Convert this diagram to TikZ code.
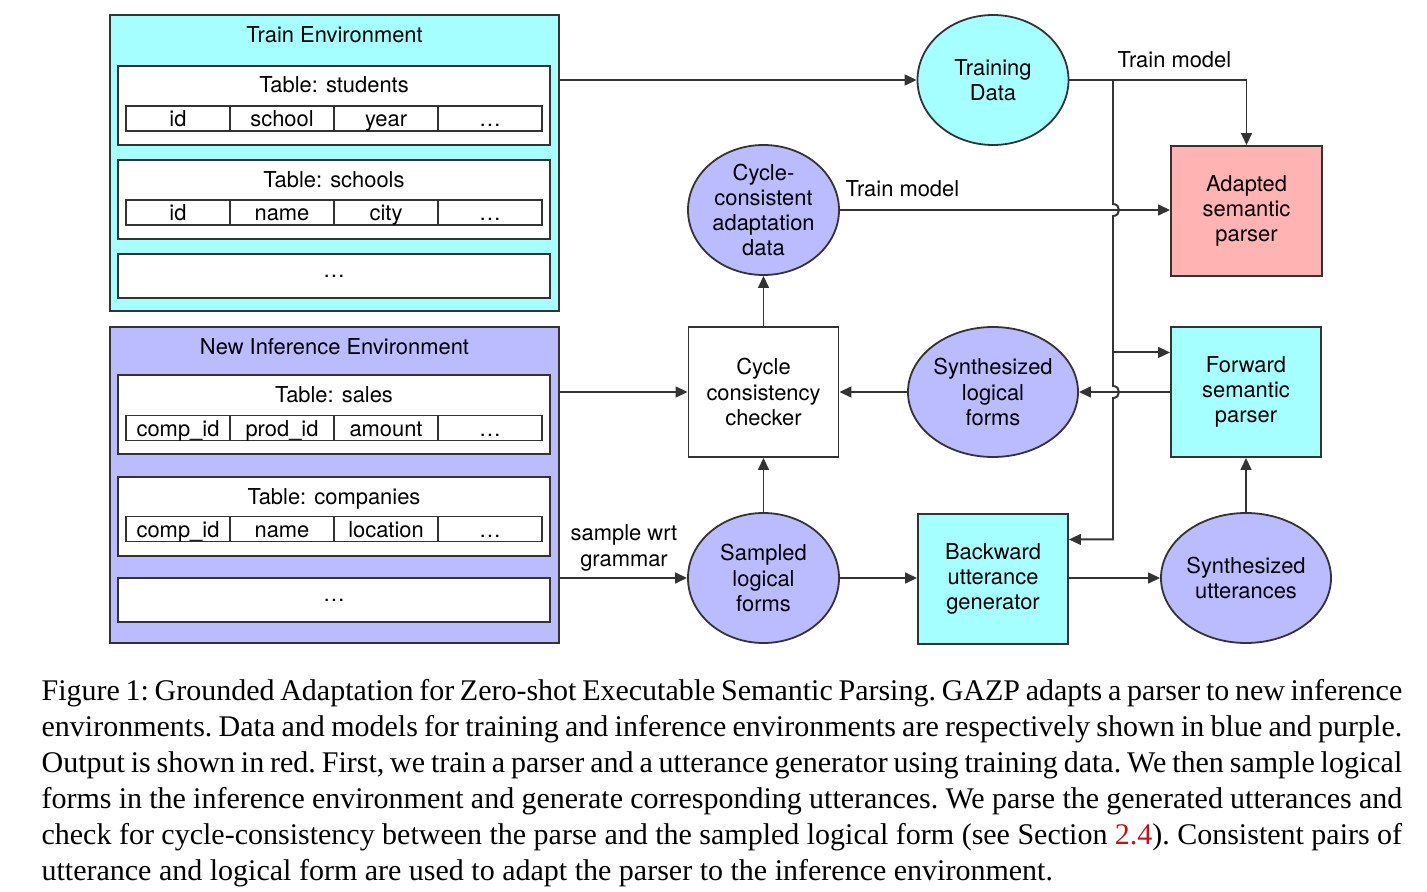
\documentclass[tikz,border=0pt]{standalone}
\usepackage{fontspec}
\setmainfont{Liberation Serif}
\newfontfamily\diagfont{TeX Gyre Heros}
\usepackage{xcolor}
\usepackage{tikz}
\usetikzlibrary{shapes.geometric,arrows.meta,positioning,calc}

\definecolor{trainblue}{RGB}{166,255,255}
\definecolor{inferpurple}{RGB}{187,187,255}
\definecolor{outred}{RGB}{255,179,179}
\definecolor{edgegray}{RGB}{51,51,51}
\definecolor{linkred}{RGB}{190,20,20}

\begin{document}
\begin{tikzpicture}[
    x=0.3333pt, y=-0.3333pt,
    every node/.style={font=\diagfont\fontsize{7.3}{8.4}\selectfont},
    envbox/.style={draw=edgegray, line width=0.6pt, minimum width=149.67pt, inner sep=0},
    tblbox/.style={draw=edgegray, fill=white, line width=0.6pt, minimum width=144pt,
                   minimum height=26.33pt, inner sep=0},
    dotbox/.style={tblbox, minimum height=14.67pt},
    cell/.style={draw=edgegray, line width=0.6pt, minimum width=34.67pt, minimum height=8.33pt,
                 inner sep=0, outer sep=0, text height=6.4pt, text depth=1pt},
    ttl/.style={anchor=base, inner sep=0},
    proc/.style={draw=edgegray, line width=0.6pt, rectangle, minimum width=50pt,
                 minimum height=43.33pt, align=center, inner sep=0},
    data/.style={draw=edgegray, line width=0.6pt, ellipse, minimum width=50.33pt,
                 minimum height=43.33pt, align=center, inner xsep=-2pt, inner ysep=-4pt},
    link/.style={draw=edgegray, line width=0.65pt},
    arr/.style={link, -{Triangle[length=4pt,width=3.6pt]}},
    lbl/.style={inner sep=0, align=center}
]
\useasboundingbox (0,0) rectangle (1427,892);

% Train environment
\node[envbox, fill=trainblue, minimum height=98.67pt] (trainenv) at (334.5,163) {};
\node[ttl] (trainttl) at (334.5,43) {Train Environment};

\node[tblbox] (tstudents) at (334,105.5) {};
\node[ttl] (tstudentsttl) at (334,93) {Table: students};
\node[cell] (sid) at (178,118.5) {id};
\node[cell, right=0pt of sid] (sschool) {school};
\node[cell, right=0pt of sschool] (syear) {year};
\node[cell, right=0pt of syear] (sdots) {\dots};

\node[tblbox] (tschools) at (334,199.5) {};
\node[ttl] (tschoolsttl) at (334,188) {Table: schools};
\node[cell] (hid) at (178,212.5) {id};
\node[cell, right=0pt of hid] (hname) {name};
\node[cell, right=0pt of hname] (hcity) {city};
\node[cell, right=0pt of hcity] (hdots) {\dots};

\node[dotbox] (tdotsA) at (334,276) {\dots};

% New inference environment
\node[envbox, fill=inferpurple, minimum height=105.33pt] (newenv) at (334.5,485) {};
\node[ttl] (newttl) at (334.5,354) {New Inference Environment};

\node[tblbox] (tsales) at (334,414.5) {};
\node[ttl] (tsalesttl) at (334,402) {Table: sales};
\node[cell] (acomp) at (178,428) {comp\_id};
\node[cell, right=0pt of acomp] (aprod) {prod\_id};
\node[cell, right=0pt of aprod] (aamount) {amount};
\node[cell, right=0pt of aamount] (adots) {\dots};

\node[tblbox] (tcompanies) at (334,516.5) {};
\node[ttl] (tcompaniesttl) at (334,504) {Table: companies};
\node[cell] (ccomp) at (178,529) {comp\_id};
\node[cell, right=0pt of ccomp] (cname) {name};
\node[cell, right=0pt of cname] (cloc) {location};
\node[cell, right=0pt of cloc] (cdots) {\dots};

\node[dotbox] (tdotsB) at (334,600) {\dots};

% Data and models
\node[data, fill=trainblue] (traindata) at (993,80) {Training\\Data};
\node[data, fill=inferpurple] (cycdata) at (763.5,210) {Cycle-\\consistent\\adaptation\\data};
\node[proc, fill=outred, minimum width=50.33pt] (adapted) at (1246.5,211) {Adapted\\semantic\\parser};
\node[proc, fill=white] (checker) at (763.5,392) {Cycle\\consistency\\checker};
\node[data, fill=inferpurple, minimum width=56.67pt] (synlf) at (993,392) {Synthesized\\logical\\forms};
\node[proc, fill=trainblue] (fwd) at (1246,392) {Forward\\semantic\\parser};
\node[data, fill=inferpurple] (samplf) at (763.5,578) {Sampled\\logical\\forms};
\node[proc, fill=trainblue] (bwd) at (993,579) {Backward\\utterance\\generator};
\node[data, fill=inferpurple, minimum width=56.67pt] (synutt) at (1246,578) {Synthesized\\utterances};

% Connectors
\coordinate (trunk) at (1113,80);
\coordinate (fwdin) at ($(fwd.north west)!0.2!(fwd.south west)$);
\coordinate (bwdin) at ($(bwd.north east)!0.2!(bwd.south east)$);

\draw[arr] (trainenv.east |- traindata) -- (traindata);
\draw[arr] (traindata) -| (adapted);
\node[lbl, anchor=base west] (lbltrainA) at (1117,68) {Train model};
\draw[arr] (trunk) -- (1113,204) .. controls (1121,204) and (1121,216) .. (1113,216)
  -- (1113,386) .. controls (1121,386) and (1121,398) .. (1113,398) |- (bwdin);
\draw[arr] (trunk |- fwdin) -- (fwdin);

\draw[arr] (cycdata) -- (cycdata -| adapted.west);
\node[lbl, anchor=base west] (lbltrainB) at (845,197) {Train model};

\draw[arr] (checker) -- (cycdata);
\draw[arr] (samplf) -- (checker);
\draw[arr] (newenv.east |- checker) -- (checker);
\draw[arr] (synlf) -- (checker);
\draw[arr] (fwd) -- (synlf);
\draw[arr] (newenv.east |- samplf) -- (samplf);
\node[lbl] (lblsample) at (624,548) {sample wrt\\grammar};
\draw[arr] (samplf) -- (samplf -| bwd.west);
\draw[arr] (synutt -| bwd.east) -- (synutt);
\draw[arr] (synutt) -- (fwd);

% Caption
\node[anchor=north west, inner sep=0, text width=453.5pt, align=justify,
      font=\rmfamily\fontsize{10}{12}\selectfont\frenchspacing] (caption) at (41,678.5)
  {Figure 1: Grounded Adaptation for Zero-shot Executable Semantic Parsing. GAZP adapts a parser to new inference environments. Data and models for training and inference environments are respectively shown in blue and purple. Output is shown in red. First, we train a parser and a utterance generator using training data. We then sample logical forms in the inference environment and generate corresponding utterances. We parse the generated utterances and check for cycle-consistency between the parse and the sampled logical form (see Section \textcolor{linkred}{2.4}). Consistent pairs of utterance and logical form are used to adapt the parser to the inference environment.};

\end{tikzpicture}
\end{document}
